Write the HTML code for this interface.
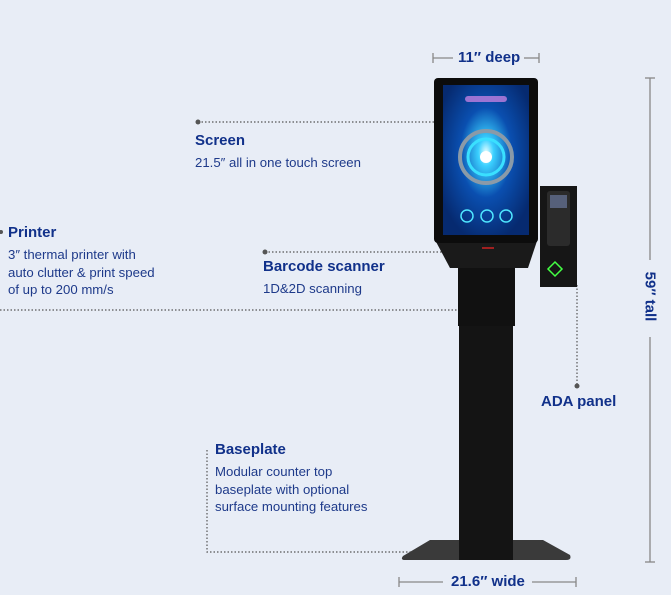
<!DOCTYPE html>
<html><head><style>
body{margin:0;width:671px;height:595px;background:#e8edf6;font-family:"Liberation Sans",sans-serif;overflow:hidden;position:relative}
.t{position:absolute;color:#11318a;font-weight:bold;font-size:15px;white-space:nowrap}
.s{position:absolute;color:#1e3a8a;font-size:13.2px;line-height:17.5px;white-space:nowrap}
</style></head><body>
<svg width="671" height="595" style="position:absolute;left:0;top:0">
<defs>
<radialGradient id="g" cx="50%" cy="45%" r="60%"><stop offset="0" stop-color="#e8ffff"/><stop offset="0.15" stop-color="#3ad0ff"/><stop offset="0.5" stop-color="#0a4fb0"/><stop offset="1" stop-color="#062a70"/></radialGradient>
</defs>
<g stroke="#555" stroke-width="1.2" stroke-dasharray="1.5 2" fill="none">
<line x1="198" y1="122" x2="470" y2="122"/>
<line x1="265" y1="252" x2="488" y2="252"/>
<line x1="0" y1="310" x2="464" y2="310"/>
<line x1="577" y1="285" x2="577" y2="386"/>
<polyline points="207,450 207,552 432,552"/>
</g>
<g fill="#555"><circle cx="198" cy="122" r="2.5"/><circle cx="265" cy="252" r="2.5"/><circle cx="464" cy="310" r="2.5"/><circle cx="577" cy="386" r="2.5"/><circle cx="1" cy="232" r="2"/></g>
<g stroke="#888" stroke-width="1.3">
<line x1="433" y1="58" x2="453" y2="58"/><line x1="433" y1="53" x2="433" y2="63"/>
<line x1="524" y1="58" x2="539" y2="58"/><line x1="539" y1="53" x2="539" y2="63"/>
<line x1="399" y1="582" x2="443" y2="582"/><line x1="399" y1="577" x2="399" y2="587"/>
<line x1="532" y1="582" x2="576" y2="582"/><line x1="576" y1="577" x2="576" y2="587"/>
<line x1="650" y1="78" x2="650" y2="260"/><line x1="645" y1="78" x2="655" y2="78"/>
<line x1="650" y1="337" x2="650" y2="562"/><line x1="645" y1="562" x2="655" y2="562"/>
</g>
<path d="M430 540 L543 540 L570 555 Q572 560 566 560 L405 560 Q400 560 403 556 Z" fill="#3a3a3a"/>
<rect x="459" y="325" width="54" height="235" fill="#141414"/>
<rect x="458" y="268" width="57" height="58" fill="#111"/>
<path d="M434 238 L538 238 L528 268 L450 268 Z" fill="#1a1a1a"/>
<rect x="482" y="247" width="12" height="2" fill="#a02020"/>
<rect x="434" y="78" width="104" height="165" rx="4" fill="#0c0c0c"/>
<rect x="443" y="85" width="86" height="150" fill="url(#g)"/>
<circle cx="486" cy="157" r="26" fill="none" stroke="#8a9aa8" stroke-width="4"/>
<circle cx="486" cy="157" r="18" fill="none" stroke="#3ae0ff" stroke-width="3"/>
<circle cx="486" cy="157" r="6" fill="#fff"/>
<g fill="none" stroke="#4fe6ff" stroke-width="1.5"><circle cx="467" cy="216" r="6"/><circle cx="487" cy="216" r="6"/><circle cx="506" cy="216" r="6"/></g>
<rect x="465" y="96" width="42" height="6" rx="3" fill="#c080e0" opacity=".8"/>
<rect x="540" y="186" width="37" height="101" fill="#161616"/>
<rect x="547" y="191" width="23" height="55" rx="3" fill="#2b2b2b"/>
<rect x="550" y="195" width="17" height="13" fill="#56607a"/>
<path d="M555 262 L562 269 L555 276 L548 269 Z" fill="none" stroke="#4f4" stroke-width="1.5"/>
</svg>
<div class="t" style="left:458px;top:49px;font-size:15px">11″ deep</div>
<div class="t" style="left:195px;top:132px">Screen</div>
<div class="s" style="left:195px;top:154px">21.5″ all in one touch screen</div>
<div class="t" style="left:8px;top:224px">Printer</div>
<div class="s" style="left:8px;top:246px">3″ thermal printer with<br>auto clutter &amp; print speed<br>of up to 200 mm/s</div>
<div class="t" style="left:263px;top:258px">Barcode scanner</div>
<div class="s" style="left:263px;top:280px">1D&amp;2D scanning</div>
<div class="t" style="left:541px;top:393px">ADA panel</div>
<div class="t" style="left:215px;top:441px">Baseplate</div>
<div class="s" style="left:215px;top:463px">Modular counter top<br>baseplate with optional<br>surface mounting features</div>
<div class="t" style="left:451px;top:573px">21.6″ wide</div>
<div class="t" style="left:612px;top:288px;transform:rotate(90deg);width:76px;text-align:center">59″ tall</div>
</body></html>
